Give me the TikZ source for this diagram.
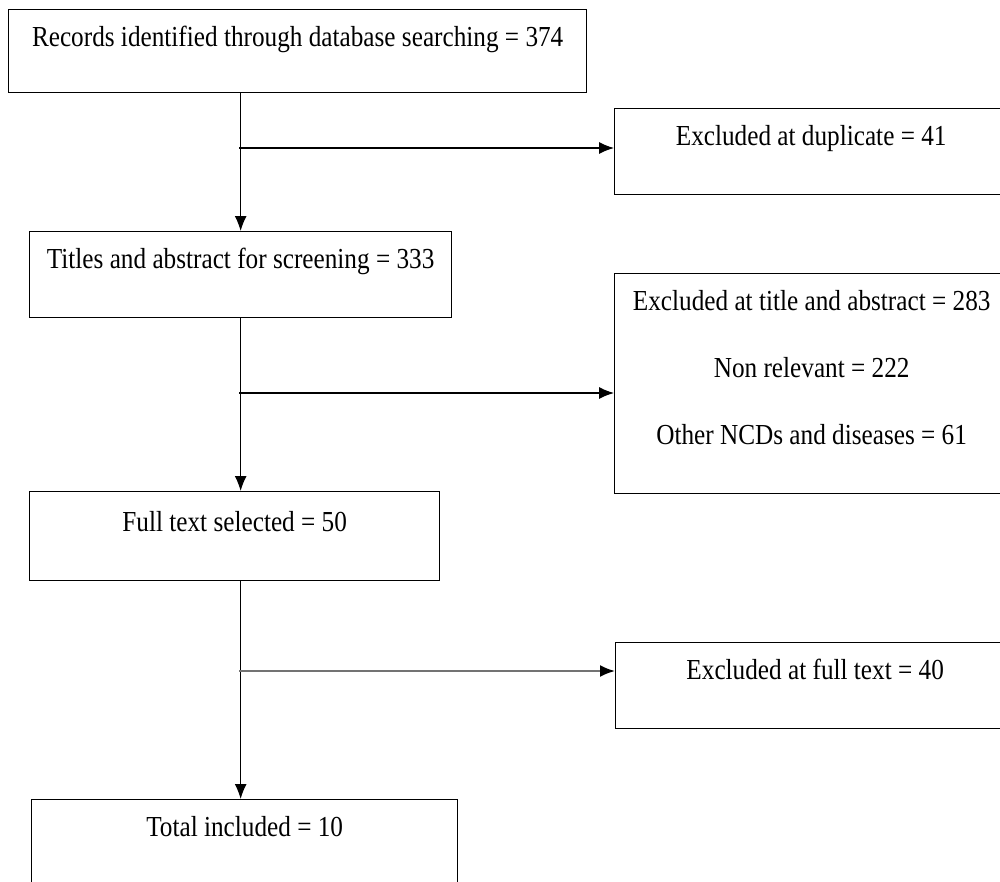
\documentclass[tikz,border=0pt]{standalone}
\usepackage{fontspec}
\setmainfont{Liberation Serif}[FakeStretch=0.87]
\usetikzlibrary{arrows.meta, positioning}

\begin{document}
\begin{tikzpicture}[
    x=1pt, y=-1pt,
    font=\fontsize{29}{67}\selectfont,
    >={Latex[length=15pt,width=12pt]},  % filled triangle heads
    box/.style={
        draw,
        line width=1.3pt,
        inner sep=0pt,
        anchor=north west,
        align=center,
        text height=37pt,   % baseline sits near the top of each box
        text depth=49pt
    },
    link/.style={->, line width=1.2pt}
]

\useasboundingbox (0,0) rectangle (1000,881);

%------------------------------------
% LEFT COLUMN: SCREENING STAGES
%------------------------------------

% 1) Database search
\node[box, minimum width=578pt, text depth=46pt] (records) at (8,9)
{Records identified through database searching = 374};

% 2) Title / abstract screening
\node[box, minimum width=422pt] (screening) at (29,231)
{Titles and abstract for screening = 333};

% 3) Full text
\node[box, minimum width=410pt, text height=40pt] (full_text) at (29,491)
{Full text selected = 50};

% 4) Included
\node[box, minimum width=426pt, text depth=80pt] (total) at (31,799)
{Total included = 10};

%------------------------------------
% RIGHT COLUMN: EXCLUSIONS
%------------------------------------

\node[box, minimum width=393pt] (duplicate) at (614,108)
{Excluded at duplicate = 41};

\node[box, minimum width=394pt, text height=171pt] (title_abs) at (614,273)
{Excluded at title and abstract = 283\\
 Non relevant = 222\\
 Other NCDs and diseases = 61};

\node[box, minimum width=399pt] (excl_full) at (615,642)
{Excluded at full text = 40};

%------------------
% EDGES (ARROWS)
%------------------

% split points on the main trunk
\coordinate (split_dup) at (239,148);
\coordinate (split_title) at (239,393);
\coordinate (split_full) at (239,671);

% main trunk
\draw[link] (records.south -| screening.north) -- (screening.north);
\draw[link] (screening.south) -- (screening.south |- full_text.north);
\draw[link] (full_text.south -| screening.south) -- (total.north -| screening.south);

% branches to the exclusion boxes
\draw[link] (split_dup) -- (split_dup -| duplicate.west);
\draw[link] (split_title) -- (split_title -| title_abs.west);
\draw[link, draw=black!55, line width=2pt,
      -{Latex[length=15pt,width=12pt,color=black]}]
    (split_full) -- (split_full -| excl_full.west);

\end{tikzpicture}
\end{document}
